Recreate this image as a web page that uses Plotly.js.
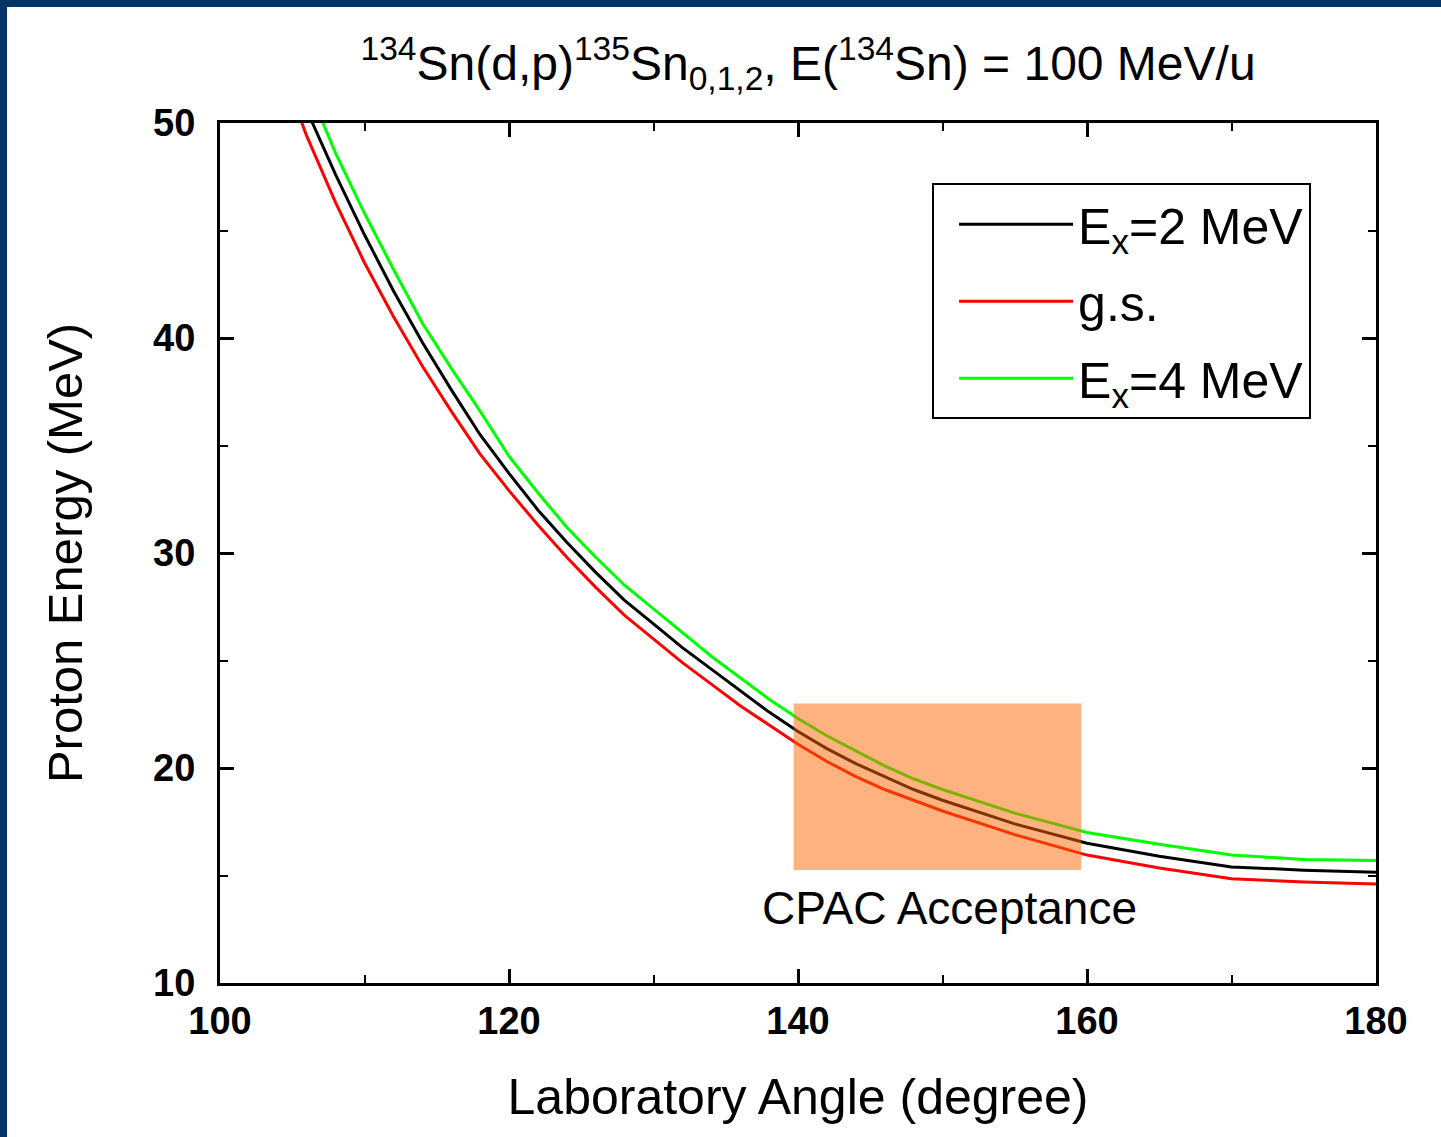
<!DOCTYPE html>
<html>
<head>
<meta charset="utf-8">
<script src="https://cdn.plot.ly/plotly-3.0.1.min.js"></script>
<style>
  html, body { margin: 0; padding: 0; background: #003467; width: 1441px; height: 1137px; overflow: hidden; }
  #plot { position: absolute; left: 7px; top: 7px; width: 1434px; height: 1130px; background: #ffffff; }
</style>
</head>
<body>
<div id="plot"></div>
<script>
// Laboratory angle (degree) and proton energy (MeV)
const angleBlack = [106, 108, 110, 112, 114, 116, 118, 120, 122, 124, 126, 128, 130, 132, 134, 136, 138, 140, 142, 144, 146, 148, 150, 155, 160, 165, 170, 175, 180];
const energyEx2  = [50.6, 47.6, 44.8, 42.2, 39.8, 37.6, 35.5, 33.7, 32.0, 30.5, 29.1, 27.8, 26.7, 25.6, 24.6, 23.6, 22.6, 21.7, 20.9, 20.2, 19.6, 19.0, 18.5, 17.4, 16.5, 15.9, 15.4, 15.25, 15.15];

const angleRed = [105, 106, 108, 110, 112, 114, 116, 118, 120, 122, 124, 126, 128, 130, 132, 134, 136, 138, 140, 142, 144, 146, 148, 150, 155, 160, 165, 170, 175, 180];
const energyGs = [51.2, 49.4, 46.3, 43.5, 41.0, 38.7, 36.6, 34.6, 32.9, 31.3, 29.8, 28.4, 27.1, 26.0, 24.9, 23.9, 22.9, 22.0, 21.1, 20.3, 19.6, 19.0, 18.5, 18.0, 16.9, 15.95, 15.35, 14.85, 14.7, 14.6];

const angleGreen = [106, 108, 110, 112, 114, 116, 118, 120, 122, 124, 126, 128, 130, 132, 134, 136, 138, 140, 142, 144, 146, 148, 150, 155, 160, 165, 170, 175, 180];
const energyEx4  = [51.8, 48.6, 45.8, 43.2, 40.7, 38.6, 36.6, 34.5, 32.8, 31.2, 29.8, 28.5, 27.4, 26.3, 25.2, 24.2, 23.2, 22.3, 21.5, 20.8, 20.1, 19.5, 19.0, 17.9, 17.0, 16.45, 15.95, 15.75, 15.7];

const seriesNames = ["E<sub>x</sub>=2 MeV", "g.s.", "E<sub>x</sub>=4 MeV"];
const seriesColors = ["#000000", "#ff0000", "#00ff00"];

// CPAC acceptance window (angle, energy)
const acceptAngle = [139.7, 159.6];
const acceptEnergy = [15.26, 23.0];
const acceptLabel = "CPAC Acceptance";

const xTicks = [100, 120, 140, 160, 180];
const yTicks = [10, 20, 30, 40, 50];

const traces = [
  {x: angleBlack, y: energyEx2, name: seriesNames[0], legendgroup: "a", mode: "lines", line: {color: seriesColors[0], width: 3}},
  {x: angleRed, y: energyGs, name: seriesNames[1], legendgroup: "b", mode: "lines", line: {color: seriesColors[1], width: 3}},
  {x: angleGreen, y: energyEx4, name: seriesNames[2], legendgroup: "c", mode: "lines", line: {color: seriesColors[2], width: 3}}
];

const axisFont = {family: "Liberation Sans, Arial, sans-serif", size: 38, color: "#000"};

const layout = {
  width: 1434, height: 1130,
  margin: {l: 213, r: 65, t: 116, b: 154},
  paper_bgcolor: "#ffffff", plot_bgcolor: "#ffffff",
  showlegend: true,
  title: {
    text: "<sup>134</sup>Sn(d,p)<sup>135</sup>Sn<sub>0,1,2</sub>, E(<sup>134</sup>Sn) = 100 MeV/u",
    font: {family: "Liberation Sans Narrow, Arial Narrow, Liberation Sans, sans-serif", size: 48, color: "#000"},
    xref: "container", yref: "container", x: 0.5586, y: 0.950, xanchor: "center", yanchor: "middle"
  },
  xaxis: {
    range: [100, 180], tickvals: xTicks, ticks: "inside", ticklen: 14, tickwidth: 3, tickcolor: "#000",
    showline: true, linewidth: 3, linecolor: "#000", mirror: "allticks", showgrid: false, zeroline: false,
    tickfont: Object.assign({}, axisFont, {weight: "bold"}), ticklabelstandoff: 2,
    minor: {tickvals: [110, 130, 150, 170], ticks: "inside", ticklen: 8, tickwidth: 2, tickcolor: "#000", showgrid: false},
    title: {text: "Laboratory Angle (degree)", font: {family: "Liberation Sans, Arial, sans-serif", size: 50, color: "#000"}, standoff: 39}
  },
  yaxis: {
    range: [10, 50], tickvals: yTicks, ticks: "inside", ticklen: 14, tickwidth: 3, tickcolor: "#000",
    showline: true, linewidth: 3, linecolor: "#000", mirror: "allticks", showgrid: false, zeroline: false,
    tickfont: Object.assign({}, axisFont, {weight: "bold"}), ticklabelstandoff: 14,
    minor: {tickvals: [15, 25, 35, 45], ticks: "inside", ticklen: 8, tickwidth: 2, tickcolor: "#000", showgrid: false},
    title: {text: "Proton Energy (MeV)", font: {family: "Liberation Sans, Arial, sans-serif", size: 49, color: "#000"}, standoff: 55}
  },
  legend: {
    x: 0.616, y: 0.930, xanchor: "left", yanchor: "top",
    bgcolor: "#ffffff", bordercolor: "#000", borderwidth: 2,
    font: {family: "Liberation Sans, Arial, sans-serif", size: 50, color: "#000"},
    itemwidth: 114, tracegroupgap: 9, indentation: 20
  },
  shapes: [{
    type: "rect", xref: "x", yref: "y",
    x0: acceptAngle[0], x1: acceptAngle[1], y0: acceptEnergy[0], y1: acceptEnergy[1],
    fillcolor: "rgb(251,101,1)", opacity: 0.5, line: {width: 0}, layer: "above"
  }],
  annotations: [{
    x: 150.5, y: 13.5, xref: "x", yref: "y", text: acceptLabel, showarrow: false,
    font: {family: "Liberation Sans, Arial, sans-serif", size: 46, color: "#000"}
  }]
};

Plotly.newPlot("plot", traces, layout, {displayModeBar: false, staticPlot: true});
</script>
</body>
</html>
